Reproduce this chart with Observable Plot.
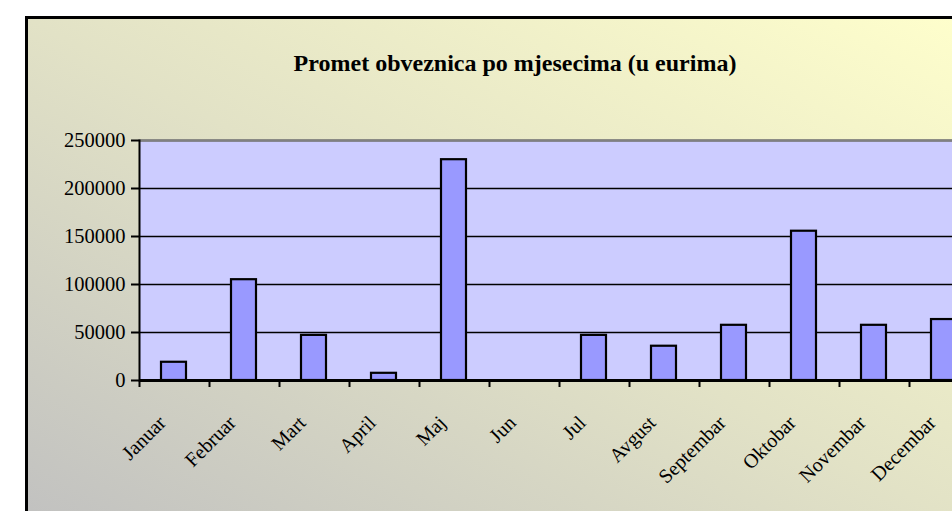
<!DOCTYPE html>
<html>
<head>
<meta charset="utf-8">
<script src="https://cdn.jsdelivr.net/npm/d3@7"></script>
<script src="https://cdn.jsdelivr.net/npm/@observablehq/plot@0.6"></script>
<style>
  html, body { margin: 0; padding: 0; background: #ffffff; }
  #page { position: relative; width: 952px; height: 511px; overflow: hidden; background: #ffffff; }
  #frame {
    position: absolute; left: 25px; top: 16px; width: 960px; height: 520px;
    border: 3px solid #000000;
    background: linear-gradient(to top right, #C0C0C0 0%, #E2E2C6 50%, #FFFFCC 100%);
  }
  #title {
    position: absolute; left: 0; width: 1030px; top: 50px; text-align: center;
    font-family: "Liberation Serif", "Times New Roman", serif; font-weight: bold; font-size: 24px; color: #000;
  }
  #chart { position: absolute; left: 0; top: 0; width: 1040px; }
  #chart svg { max-width: none !important; }
</style>
</head>
<body>
<div id="page">
  <div id="frame"></div>
  <div id="title">Promet obveznica po mjesecima (u eurima)</div>
  <div id="chart"></div>
</div>
<script>
const months = ["Januar", "Februar", "Mart", "April", "Maj", "Jun", "Jul", "Avgust", "Septembar", "Oktobar", "Novembar", "Decembar"];
const values = [19000, 105000, 47000, 7500, 230000, 0, 47000, 35700, 57500, 155500, 57500, 63500];
const yTicks = [0, 50000, 100000, 150000, 200000, 250000];

const data = months.map((m, i) => ({month: m, value: values[i]}));

const W = 1040, H = 520, ML = 139, MR = 61, MT = 140, MB = 140;
const bandW = (W - ML - MR) / months.length;

const chart = Plot.plot({
  width: W,
  height: H,
  marginLeft: ML,
  marginRight: MR,
  marginTop: MT,
  marginBottom: MB,
  style: {background: "transparent", fontFamily: "'Liberation Serif', 'Times New Roman', serif", color: "#000", overflow: "visible", maxWidth: "none"},
  x: {domain: months, padding: 0, axis: null},
  y: {domain: [0, 250000], axis: null},
  marks: [
    Plot.frame({fill: "#CCCCFF", stroke: null}),
    Plot.gridY(yTicks, {stroke: "#000", strokeOpacity: 1, strokeWidth: 1.5}),
    Plot.ruleY([250000], {stroke: "#808080", strokeWidth: 2.5}),
    Plot.barY(data, {x: "month", y: "value", fill: "#9999FF", stroke: "#000", strokeWidth: 2.2, insetLeft: 22, insetRight: 23}),
    Plot.ruleY([0], {stroke: "#000", strokeWidth: 3}),
    Plot.frame({anchor: "left", stroke: "#000", strokeWidth: 2}),
    Plot.axisY(yTicks, {tickSize: 8, tickPadding: 6, tickFormat: d3.format("d"), fontSize: 20.5, stroke: "#000", strokeWidth: 2, label: null}),
    Plot.axisX({tickSize: 7, tickFormat: () => "", dx: -bandW / 2, stroke: "#000", strokeWidth: 2, label: null}),
    Plot.text(months, {x: d => d, frameAnchor: "bottom", rotate: -45, textAnchor: "end", lineAnchor: "middle", dx: -12, dy: 39, fontSize: 20, fill: "#000"})
  ]
});
chart.style.maxWidth = "none";
document.getElementById("chart").appendChild(chart);
</script>
</body>
</html>
